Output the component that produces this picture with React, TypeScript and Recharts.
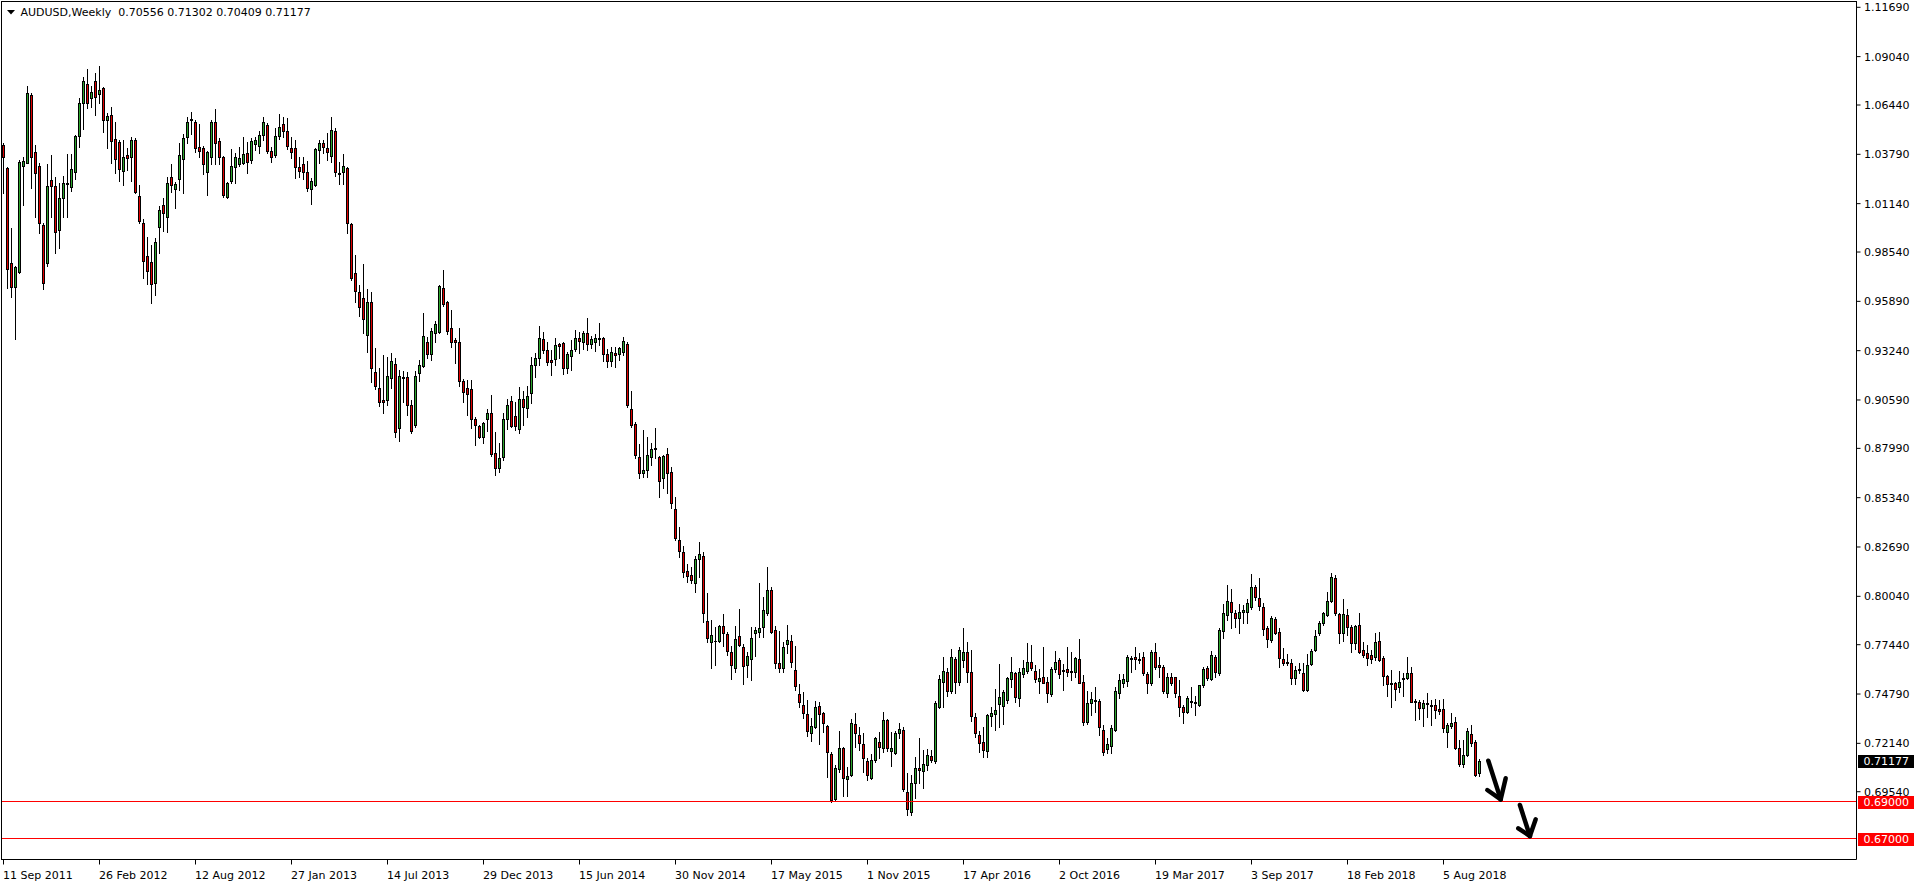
import React from 'react';
import { ComposedChart, Bar, XAxis, YAxis, ReferenceLine } from 'recharts';

// Weekly AUDUSD candles, first bar = week of 11 Sep 2011
const opens = [
  1.0429, 1.0307, 0.9793, 0.9664, 0.9747, 1.0316, 1.0334, 1.0698, 1.0390, 1.0316,
  0.9999, 0.9793, 1.0241, 1.0209, 0.9972, 1.0143, 1.0219, 1.0202, 1.0286, 1.0478,
  1.0653, 1.0757, 1.0680, 1.0771, 1.0704, 1.0734, 1.0563, 1.0590, 1.0459, 1.0447,
  1.0291, 1.0375, 1.0366, 1.0456, 1.0155, 1.0008, 0.9833, 0.9800, 0.9686, 0.9987,
  1.0105, 1.0040, 1.0255, 1.0191, 1.0245, 1.0352, 1.0470, 1.0563, 1.0552, 1.0417,
  1.0411, 1.0282, 1.0367, 1.0552, 1.0451, 1.0363, 1.0151, 1.0237, 1.0311, 1.0327,
  1.0331, 1.0384, 1.0348, 1.0435, 1.0424, 1.0481, 1.0535, 1.0397, 1.0375, 1.0478,
  1.0540, 1.0504, 1.0411, 1.0411, 1.0313, 1.0327, 1.0282, 1.0191, 1.0214, 1.0400,
  1.0438, 1.0411, 1.0370, 1.0506, 1.0280, 1.0282, 1.0307, 1.0003, 0.9743, 0.9641,
  0.9605, 0.9406, 0.9584, 0.9211, 0.9122, 0.9059, 0.9059, 0.9175, 0.9252, 0.8907,
  0.9184, 0.9184, 0.9032, 0.8925, 0.9202, 0.9242, 0.9372, 0.9306, 0.9421, 0.9426,
  0.9659, 0.9584, 0.9444, 0.9381, 0.9369, 0.9163, 0.9122, 0.9116, 0.8955, 0.8919,
  0.8858, 0.8955, 0.8991, 0.8772, 0.8692, 0.8755, 0.8955, 0.9054, 0.8973, 0.8901,
  0.9062, 0.9017, 0.9095, 0.9247, 0.9283, 0.9385, 0.9327, 0.9274, 0.9277, 0.9358,
  0.9363, 0.9229, 0.9295, 0.9331, 0.9390, 0.9372, 0.9417, 0.9360, 0.9372, 0.9385,
  0.9390, 0.9304, 0.9270, 0.9310, 0.9304, 0.9318, 0.9360, 0.9009, 0.8928, 0.8751,
  0.8668, 0.8683, 0.8751, 0.8799, 0.8751, 0.8642, 0.8767, 0.8670, 0.8471, 0.8305,
  0.8240, 0.8140, 0.8119, 0.8074, 0.8203, 0.8221, 0.7871, 0.7760, 0.7766, 0.7766,
  0.7844, 0.7800, 0.7703, 0.7617, 0.7791, 0.7730, 0.7635, 0.7665, 0.7809, 0.7814,
  0.7837, 0.7916, 0.8038, 0.7823, 0.7647, 0.7617, 0.7748, 0.7764, 0.7608, 0.7479,
  0.7420, 0.7372, 0.7268, 0.7304, 0.7415, 0.7375, 0.7307, 0.7157, 0.6913, 0.7074,
  0.7187, 0.7021, 0.7044, 0.7316, 0.7259, 0.7210, 0.7121, 0.7026, 0.7124, 0.7223,
  0.7187, 0.7339, 0.7175, 0.7164, 0.7272, 0.7286, 0.6954, 0.6847, 0.6999, 0.7080,
  0.7067, 0.7097, 0.7146, 0.7121, 0.7407, 0.7545, 0.7596, 0.7497, 0.7665, 0.7542,
  0.7662, 0.7705, 0.7595, 0.7357, 0.7259, 0.7219, 0.7174, 0.7362, 0.7370, 0.7425,
  0.7415, 0.7447, 0.7558, 0.7590, 0.7456, 0.7585, 0.7604, 0.7649, 0.7603, 0.7551,
  0.7572, 0.7542, 0.7477, 0.7612, 0.7662, 0.7608, 0.7613, 0.7603, 0.7596, 0.7665,
  0.7542, 0.7327, 0.7431, 0.7447, 0.7441, 0.7285, 0.7182, 0.7201, 0.7286, 0.7483,
  0.7540, 0.7551, 0.7672, 0.7676, 0.7665, 0.7676, 0.7585, 0.7540, 0.7705, 0.7633,
  0.7622, 0.7486, 0.7568, 0.7568, 0.7468, 0.7407, 0.7384, 0.7443, 0.7438, 0.7420,
  0.7527, 0.7617, 0.7558, 0.7676, 0.7594, 0.7819, 0.7904, 0.7975, 0.7913, 0.7886,
  0.7922, 0.7922, 0.7945, 0.8052, 0.7993, 0.7945, 0.7832, 0.7769, 0.7880, 0.7814,
  0.7665, 0.7644, 0.7647, 0.7563, 0.7608, 0.7590, 0.7501, 0.7640, 0.7715, 0.7809,
  0.7859, 0.7904, 0.7981, 0.8101, 0.7909, 0.7809, 0.7904, 0.7837, 0.7755, 0.7850,
  0.7715, 0.7698, 0.7689, 0.7676, 0.7766, 0.7671, 0.7576, 0.7537, 0.7537, 0.7515,
  0.7558, 0.7563, 0.7590, 0.7441, 0.7438, 0.7402, 0.7429, 0.7420, 0.7420, 0.7397,
  0.7397, 0.7277, 0.7309, 0.7330, 0.7187, 0.7103, 0.7151, 0.7264, 0.7223, 0.70556,
];

const highs = [
  1.0440, 1.0312, 0.9981, 0.9780, 1.0349, 1.0366, 1.0746, 1.0707, 1.0429, 1.0331,
  1.0008, 1.0325, 1.0375, 1.0259, 1.0227, 1.0262, 1.0381, 1.0381, 1.0483, 1.0680,
  1.0796, 1.0836, 1.0746, 1.0814, 1.0854, 1.0739, 1.0599, 1.0635, 1.0554, 1.0456,
  1.0456, 1.0411, 1.0470, 1.0465, 1.0214, 1.0030, 0.9933, 0.9892, 0.9928, 1.0101,
  1.0146, 1.0259, 1.0327, 1.0232, 1.0442, 1.0488, 1.0578, 1.0604, 1.0563, 1.0542,
  1.0424, 1.0399, 1.0563, 1.0621, 1.0465, 1.0370, 1.0232, 1.0406, 1.0384, 1.0417,
  1.0474, 1.0447, 1.0465, 1.0474, 1.0506, 1.0578, 1.0545, 1.0417, 1.0519, 1.0596,
  1.0581, 1.0572, 1.0470, 1.0456, 1.0366, 1.0366, 1.0345, 1.0250, 1.0411, 1.0456,
  1.0456, 1.0495, 1.0581, 1.0519, 1.0336, 1.0381, 1.0313, 1.0008, 0.9838, 0.9677,
  0.9788, 0.9654, 0.9638, 0.9336, 0.9229, 0.9301, 0.9292, 0.9310, 0.9283, 0.9220,
  0.9216, 0.9211, 0.9059, 0.9216, 0.9274, 0.9528, 0.9396, 0.9444, 0.9485, 0.9677,
  0.9757, 0.9593, 0.9542, 0.9390, 0.9444, 0.9170, 0.9166, 0.9166, 0.8969, 0.8925,
  0.8943, 0.9009, 0.9084, 0.8889, 0.8826, 0.8991, 0.9064, 0.9080, 0.9046, 0.9130,
  0.9109, 0.9134, 0.9288, 0.9310, 0.9456, 0.9426, 0.9372, 0.9327, 0.9390, 0.9367,
  0.9372, 0.9318, 0.9381, 0.9435, 0.9426, 0.9431, 0.9498, 0.9403, 0.9413, 0.9471,
  0.9399, 0.9331, 0.9342, 0.9342, 0.9342, 0.9399, 0.9369, 0.9109, 0.8943, 0.8822,
  0.8898, 0.8858, 0.8830, 0.8907, 0.8758, 0.8764, 0.8799, 0.8701, 0.8539, 0.8378,
  0.8274, 0.8178, 0.8163, 0.8221, 0.8298, 0.8244, 0.8020, 0.7877, 0.7837, 0.7850,
  0.7909, 0.7814, 0.7737, 0.7844, 0.7934, 0.7746, 0.7706, 0.7837, 0.7837, 0.8077,
  0.8002, 0.8163, 0.8052, 0.7844, 0.7819, 0.7760, 0.7850, 0.7796, 0.7737, 0.7533,
  0.7492, 0.7447, 0.7348, 0.7443, 0.7438, 0.7384, 0.7313, 0.7169, 0.7097, 0.7282,
  0.7196, 0.7089, 0.7343, 0.7379, 0.7304, 0.7268, 0.7133, 0.7157, 0.7246, 0.7277,
  0.7384, 0.7345, 0.7277, 0.7282, 0.7325, 0.7300, 0.7053, 0.7044, 0.7142, 0.7241,
  0.7178, 0.7181, 0.7178, 0.7443, 0.7581, 0.7676, 0.7617, 0.7719, 0.7676, 0.7730,
  0.7832, 0.7760, 0.7715, 0.7375, 0.7282, 0.7303, 0.7372, 0.7411, 0.7504, 0.7640,
  0.7501, 0.7572, 0.7676, 0.7599, 0.7617, 0.7662, 0.7751, 0.7742, 0.7635, 0.7612,
  0.7730, 0.7569, 0.7626, 0.7710, 0.7671, 0.7640, 0.7730, 0.7706, 0.7676, 0.7773,
  0.7581, 0.7495, 0.7492, 0.7519, 0.7450, 0.7312, 0.7241, 0.7312, 0.7515, 0.7586,
  0.7586, 0.7688, 0.7683, 0.7733, 0.7697, 0.7706, 0.7599, 0.7715, 0.7751, 0.7676,
  0.7635, 0.7590, 0.7590, 0.7572, 0.7554, 0.7420, 0.7468, 0.7515, 0.7468, 0.7530,
  0.7626, 0.7630, 0.7712, 0.7689, 0.7832, 0.7965, 0.8065, 0.8041, 0.7930, 0.7963,
  0.7957, 0.7988, 0.8124, 0.8065, 0.8101, 0.7970, 0.7845, 0.7898, 0.7891, 0.7832,
  0.7724, 0.7694, 0.7665, 0.7629, 0.7644, 0.7644, 0.7694, 0.7719, 0.7823, 0.7873,
  0.7922, 0.8029, 0.8131, 0.8119, 0.7916, 0.7988, 0.7934, 0.7850, 0.7850, 0.7916,
  0.7760, 0.7742, 0.7715, 0.7809, 0.7814, 0.7683, 0.7581, 0.7608, 0.7545, 0.7605,
  0.7590, 0.7676, 0.7626, 0.7450, 0.7447, 0.7447, 0.7482, 0.7447, 0.7450, 0.7447,
  0.7450, 0.7322, 0.7375, 0.7354, 0.7232, 0.7232, 0.7295, 0.7313, 0.7232, 0.71302,
];

const lows = [
  1.0169, 0.9659, 0.9614, 0.9388, 0.9740, 1.0107, 1.0330, 1.0196, 1.0044, 0.9958,
  0.9657, 0.9781, 1.0040, 0.9850, 0.9877, 1.0040, 1.0044, 1.0180, 1.0245, 1.0420,
  1.0515, 1.0626, 1.0631, 1.0590, 1.0653, 1.0501, 1.0411, 1.0331, 1.0281, 1.0237,
  1.0214, 1.0295, 1.0237, 1.0173, 1.0008, 0.9713, 0.9682, 0.9578, 0.9623, 0.9847,
  0.9969, 0.9963, 1.0178, 1.0092, 1.0187, 1.0169, 1.0438, 1.0488, 1.0393, 1.0366,
  1.0271, 1.0160, 1.0327, 1.0327, 1.0327, 1.0151, 1.0142, 1.0223, 1.0227, 1.0316,
  1.0327, 1.0277, 1.0334, 1.0402, 1.0388, 1.0456, 1.0388, 1.0340, 1.0366, 1.0460,
  1.0474, 1.0406, 1.0357, 1.0250, 1.0259, 1.0246, 1.0184, 1.0110, 1.0209, 1.0331,
  1.0384, 1.0348, 1.0339, 1.0264, 1.0219, 1.0219, 0.9954, 0.9704, 0.9587, 0.9512,
  0.9421, 0.9319, 0.9157, 0.9116, 0.9027, 0.8991, 0.9032, 0.9122, 0.8862, 0.8840,
  0.9050, 0.8978, 0.8883, 0.8916, 0.9162, 0.9238, 0.9283, 0.9274, 0.9372, 0.9421,
  0.9564, 0.9413, 0.9342, 0.9260, 0.9134, 0.9050, 0.8978, 0.8907, 0.8817, 0.8853,
  0.8826, 0.8894, 0.8758, 0.8656, 0.8674, 0.8737, 0.8901, 0.8912, 0.8898, 0.8884,
  0.8924, 0.8969, 0.9041, 0.9184, 0.9247, 0.9310, 0.9247, 0.9193, 0.9247, 0.9283,
  0.9198, 0.9206, 0.9220, 0.9324, 0.9313, 0.9331, 0.9327, 0.9336, 0.9324, 0.9354,
  0.9270, 0.9234, 0.9242, 0.9234, 0.9274, 0.9301, 0.9023, 0.8916, 0.8745, 0.8638,
  0.8647, 0.8647, 0.8710, 0.8746, 0.8536, 0.8584, 0.8561, 0.8477, 0.8307, 0.8214,
  0.8106, 0.8083, 0.8077, 0.8029, 0.8110, 0.7868, 0.7760, 0.7621, 0.7635, 0.7760,
  0.7737, 0.7689, 0.7558, 0.7599, 0.7737, 0.7531, 0.7572, 0.7554, 0.7683, 0.7784,
  0.7784, 0.7904, 0.7805, 0.7617, 0.7599, 0.7599, 0.7701, 0.7622, 0.7501, 0.7411,
  0.7348, 0.7254, 0.7229, 0.7295, 0.7210, 0.7277, 0.7035, 0.6901, 0.6906, 0.7062,
  0.6931, 0.6931, 0.7039, 0.7196, 0.7178, 0.7062, 0.7017, 0.7021, 0.7115, 0.7133,
  0.7169, 0.7175, 0.7092, 0.7157, 0.7241, 0.6960, 0.6829, 0.6829, 0.6919, 0.6999,
  0.6972, 0.7071, 0.7116, 0.7107, 0.7402, 0.7411, 0.7468, 0.7483, 0.7486, 0.7527,
  0.7626, 0.7545, 0.7336, 0.7250, 0.7169, 0.7142, 0.7142, 0.7307, 0.7286, 0.7304,
  0.7318, 0.7433, 0.7515, 0.7438, 0.7415, 0.7569, 0.7594, 0.7608, 0.7545, 0.7486,
  0.7536, 0.7438, 0.7468, 0.7599, 0.7563, 0.7500, 0.7576, 0.7554, 0.7569, 0.7536,
  0.7312, 0.7318, 0.7366, 0.7384, 0.7259, 0.7151, 0.7160, 0.7160, 0.7282, 0.7456,
  0.7518, 0.7522, 0.7599, 0.7613, 0.7647, 0.7581, 0.7486, 0.7527, 0.7611, 0.7568,
  0.7486, 0.7465, 0.7527, 0.7465, 0.7361, 0.7325, 0.7379, 0.7411, 0.7366, 0.7415,
  0.7518, 0.7554, 0.7554, 0.7572, 0.7581, 0.7778, 0.7877, 0.7832, 0.7837, 0.7805,
  0.7862, 0.7862, 0.7934, 0.7984, 0.7930, 0.7796, 0.7730, 0.7760, 0.7801, 0.7622,
  0.7635, 0.7635, 0.7533, 0.7533, 0.7594, 0.7497, 0.7497, 0.7635, 0.7712, 0.7796,
  0.7850, 0.7898, 0.7975, 0.7903, 0.7755, 0.7766, 0.7796, 0.7707, 0.7719, 0.7701,
  0.7680, 0.7635, 0.7644, 0.7662, 0.7658, 0.7527, 0.7468, 0.7408, 0.7447, 0.7492,
  0.7468, 0.7558, 0.7435, 0.7339, 0.7343, 0.7307, 0.7357, 0.7312, 0.7348, 0.7372,
  0.7277, 0.7196, 0.7295, 0.7182, 0.7092, 0.7085, 0.7146, 0.7200, 0.7038, 0.70409,
];

const closes = [
  1.0363, 0.9761, 0.9668, 0.9771, 1.0336, 1.0343, 1.0707, 1.0367, 1.0277, 1.0008,
  0.9689, 1.0209, 1.0209, 0.9963, 1.0143, 1.0223, 1.0225, 1.0300, 1.0478, 1.0653,
  1.0771, 1.0653, 1.0712, 1.0685, 1.0727, 1.0563, 1.0585, 1.0452, 1.0352, 1.0302,
  1.0363, 1.0361, 1.0456, 1.0177, 1.0021, 0.9808, 0.9754, 0.9682, 0.9910, 1.0080,
  1.0062, 1.0227, 1.0214, 1.0220, 1.0375, 1.0465, 1.0552, 1.0567, 1.0415, 1.0399,
  1.0325, 1.0390, 1.0552, 1.0442, 1.0367, 1.0163, 1.0223, 1.0316, 1.0363, 1.0358,
  1.0381, 1.0340, 1.0451, 1.0456, 1.0481, 1.0552, 1.0399, 1.0363, 1.0478, 1.0524,
  1.0504, 1.0424, 1.0393, 1.0313, 1.0291, 1.0282, 1.0196, 1.0236, 1.0406, 1.0438,
  1.0417, 1.0393, 1.0510, 1.0282, 1.0271, 1.0316, 1.0008, 0.9713, 0.9646, 0.9561,
  0.9492, 0.9584, 0.9229, 0.9134, 0.9050, 0.9050, 0.9188, 0.9270, 0.8889, 0.9188,
  0.9175, 0.9032, 0.8894, 0.9188, 0.9247, 0.9403, 0.9306, 0.9430, 0.9467, 0.9671,
  0.9575, 0.9431, 0.9372, 0.9369, 0.9163, 0.9104, 0.9091, 0.8955, 0.8925, 0.8862,
  0.8934, 0.8991, 0.8767, 0.8692, 0.8746, 0.8955, 0.9032, 0.8919, 0.8919, 0.9062,
  0.9023, 0.9080, 0.9247, 0.9283, 0.9390, 0.9327, 0.9261, 0.9265, 0.9354, 0.9351,
  0.9229, 0.9304, 0.9327, 0.9394, 0.9378, 0.9417, 0.9358, 0.9385, 0.9390, 0.9394,
  0.9304, 0.9270, 0.9318, 0.9301, 0.9336, 0.9376, 0.9032, 0.8925, 0.8763, 0.8668,
  0.8683, 0.8763, 0.8796, 0.8794, 0.8626, 0.8758, 0.8665, 0.8507, 0.8316, 0.8249,
  0.8137, 0.8115, 0.8092, 0.8205, 0.8231, 0.7916, 0.7782, 0.7796, 0.7764, 0.7844,
  0.7809, 0.7712, 0.7635, 0.7773, 0.7743, 0.7630, 0.7683, 0.7778, 0.7823, 0.7832,
  0.7930, 0.8038, 0.7814, 0.7644, 0.7621, 0.7734, 0.7769, 0.7653, 0.7522, 0.7438,
  0.7379, 0.7282, 0.7307, 0.7411, 0.7372, 0.7325, 0.7169, 0.6910, 0.7080, 0.7187,
  0.7026, 0.7039, 0.7321, 0.7268, 0.7214, 0.7133, 0.7044, 0.7124, 0.7241, 0.7193,
  0.7339, 0.7187, 0.7187, 0.7268, 0.7289, 0.6967, 0.6859, 0.7003, 0.7080, 0.7071,
  0.7103, 0.7151, 0.7125, 0.7429, 0.7558, 0.7603, 0.7497, 0.7676, 0.7545, 0.7714,
  0.7706, 0.7599, 0.7361, 0.7268, 0.7218, 0.7178, 0.7366, 0.7375, 0.7393, 0.7461,
  0.7492, 0.7563, 0.7595, 0.7461, 0.7595, 0.7617, 0.7649, 0.7621, 0.7558, 0.7567,
  0.7540, 0.7486, 0.7612, 0.7653, 0.7585, 0.7603, 0.7595, 0.7596, 0.7671, 0.7540,
  0.7330, 0.7429, 0.7450, 0.7440, 0.7300, 0.7169, 0.7210, 0.7295, 0.7495, 0.7554,
  0.7560, 0.7676, 0.7667, 0.7665, 0.7662, 0.7590, 0.7536, 0.7705, 0.7622, 0.7622,
  0.7497, 0.7568, 0.7540, 0.7486, 0.7411, 0.7384, 0.7456, 0.7438, 0.7433, 0.7527,
  0.7612, 0.7563, 0.7689, 0.7599, 0.7823, 0.7912, 0.7981, 0.7921, 0.7886, 0.7922,
  0.7931, 0.7966, 0.8052, 0.7998, 0.7952, 0.7827, 0.7773, 0.7886, 0.7809, 0.7671,
  0.7647, 0.7653, 0.7563, 0.7608, 0.7612, 0.7501, 0.7635, 0.7712, 0.7791, 0.7859,
  0.7913, 0.7981, 0.8106, 0.7916, 0.7809, 0.7909, 0.7837, 0.7755, 0.7845, 0.7706,
  0.7689, 0.7671, 0.7665, 0.7760, 0.7662, 0.7576, 0.7533, 0.7533, 0.7504, 0.7545,
  0.7563, 0.7594, 0.7438, 0.7434, 0.7402, 0.7432, 0.7424, 0.7416, 0.7393, 0.7389,
  0.7295, 0.7313, 0.7321, 0.7187, 0.7103, 0.7151, 0.7282, 0.7214, 0.7044, 0.71177,
];

const xTickIndex = [0, 24, 48, 72, 96, 120, 144, 168, 192, 216, 240, 264, 288, 312, 336, 360];
const xTickLabels = [
  '11 Sep 2011', '26 Feb 2012', '12 Aug 2012', '27 Jan 2013', '14 Jul 2013', '29 Dec 2013',
  '15 Jun 2014', '30 Nov 2014', '17 May 2015', '1 Nov 2015', '17 Apr 2016', '2 Oct 2016',
  '19 Mar 2017', '3 Sep 2017', '18 Feb 2018', '5 Aug 2018',
];
const yTicks = [
  1.1169, 1.0904, 1.0644, 1.0379, 1.0114, 0.9854, 0.9589, 0.9324, 0.9059,
  0.8799, 0.8534, 0.8269, 0.8004, 0.7744, 0.7479, 0.7214, 0.6954,
];
const levelLines = [0.69, 0.67];
const symbolName = 'AUDUSD,Weekly';

// hand-drawn arrows, in (bar index, price) coordinates
const arrowSegments = [
  [[371.2, 0.71207], [374.3, 0.69132]],
  [[370.95, 0.69632], [374.3, 0.69132]],
  [[374.3, 0.69132], [375.55, 0.70261]],
  [[379.1, 0.68826], [381.6, 0.6716]],
  [[378.7, 0.67574], [381.6, 0.6716]],
  [[381.6, 0.6716], [383.05, 0.68058]],
];

const GREEN = '#2CA52C';
const RED = '#E00000';
const FONT = 'DejaVu Sans';

const data = opens.map((o, i) => {
  const c = closes[i];
  return {
    i,
    o,
    c,
    h: Math.max(highs[i], o, c),
    l: Math.min(lows[i], o, c),
  };
});

const lastIdx = data.length - 1;
const lastPrice = closes[lastIdx];

const Candle = (props: any) => {
  const p = props.payload || props;
  let { x, y, width, height } = props;
  if (p == null || p.o == null || x == null || y == null) return null;
  if (height < 0) {
    y = y + height;
    height = -height;
  }
  const { o, h, l, c } = p;
  const k = h - l > 0 ? height / (h - l) : 0;
  const py = (v: number) => y + (h - v) * k;
  const col = Math.floor(x + width / 2);
  const top = Math.round(py(h));
  const bot = Math.round(py(l));
  const bt = Math.round(py(Math.max(o, c)));
  const bb = Math.round(py(Math.min(o, c)));
  const up = c >= o;
  return (
    <g shapeRendering="crispEdges">
      <rect x={col} y={top} width={1} height={Math.max(1, bot - top + 1)} fill="#000" />
      <rect x={col - 1} y={bt} width={3} height={Math.max(1, bb - bt + 1)} fill="#000" />
      {bb - bt >= 2 && (
        <rect x={col} y={bt + 1} width={1} height={bb - bt - 1} fill={up ? GREEN : RED} />
      )}
    </g>
  );
};

const XTick = (props: any) => {
  const { x, y, payload } = props;
  const idx = xTickIndex.indexOf(payload.value);
  const label = idx >= 0 ? xTickLabels[idx] : '';
  return (
    <text x={x - 0.5} y={y + 12} fontFamily={FONT} fontSize={11} fill="#000" textAnchor="start">
      {label}
    </text>
  );
};

const YTick = (props: any) => {
  const { x, y, payload } = props;
  return (
    <text x={x + 1.5} y={y + 4} fontFamily={FONT} fontSize={11} fill="#000" textAnchor="start">
      {Number(payload.value).toFixed(5)}
    </text>
  );
};

const makeTag = (text: string, bg: string) => (props: any) => {
  const vb = props.viewBox || {};
  const xx = Math.floor((vb.x || 0) + (vb.width || 0));
  const yy = Math.round(vb.y || 0);
  return (
    <g shapeRendering="crispEdges">
      <rect x={xx + 2} y={yy - 6} width={56} height={13} fill={bg} />
      <text x={xx + 7.5} y={yy + 4} fontFamily={FONT} fontSize={11} fill="#fff" textAnchor="start">
        {text}
      </text>
    </g>
  );
};

export default function App() {
  const header = `${symbolName}  ${opens[lastIdx].toFixed(5)} ${highs[lastIdx].toFixed(5)} ${lows[lastIdx].toFixed(5)} ${closes[lastIdx].toFixed(5)}`;
  return (
    <div style={{ position: 'absolute', left: 0, top: 0, width: 1916, height: 884, background: '#fff', overflow: 'hidden' }}>
      <ComposedChart
        width={1916}
        height={884}
        data={data}
        margin={{ top: 1.5, right: 0, bottom: 0, left: 1.5 }}
      >
        <XAxis
          type="number"
          dataKey="i"
          domain={[-0.5, 463.25]}
          allowDataOverflow
          ticks={xTickIndex}
          interval={0}
          height={24.5}
          tickSize={5}
          tickMargin={2}
          axisLine={{ stroke: '#000', strokeWidth: 1 }}
          tickLine={{ stroke: '#000', strokeWidth: 1 }}
          tick={<XTick />}
        />
        <YAxis
          type="number"
          orientation="right"
          domain={[0.65898, 1.12002]}
          allowDataOverflow
          ticks={yTicks}
          interval={0}
          width={59.5}
          tickSize={4}
          tickMargin={2}
          axisLine={{ stroke: '#000', strokeWidth: 1 }}
          tickLine={{ stroke: '#000', strokeWidth: 1 }}
          tick={<YTick />}
        />
        <Bar
          dataKey={(d: any) => [d.l, d.h]}
          barSize={3}
          shape={<Candle />}
          isAnimationActive={false}
        />
        {levelLines.map((v) => (
          <ReferenceLine
            key={v}
            y={v}
            stroke="#ff0000"
            strokeWidth={1}
            shapeRendering="crispEdges"
            label={makeTag(v.toFixed(5), '#ff0000')}
          />
        ))}
        <ReferenceLine
          y={lastPrice}
          stroke="none"
          strokeOpacity={0}
          label={makeTag(lastPrice.toFixed(5), '#000000')}
        />
        {arrowSegments.map((seg, k) => (
          <ReferenceLine
            key={'a' + k}
            segment={[{ x: seg[0][0], y: seg[0][1] }, { x: seg[1][0], y: seg[1][1] }]}
            stroke="#000"
            strokeWidth={4.5}
            strokeLinecap="round"
            ifOverflow="visible"
          />
        ))}
      </ComposedChart>
      {/* left & top frame lines */}
      <div style={{ position: 'absolute', left: 1, top: 1, width: 1, height: 859, background: '#000' }} />
      <div style={{ position: 'absolute', left: 1, top: 1, width: 1856, height: 1, background: '#000' }} />
      <svg style={{ position: 'absolute', left: 0, top: 0 }} width={420} height={24}>
        <polygon points="7,10 15,10 11,14.5" fill="#000" />
        <text x={20.5} y={15.5} fontFamily={FONT} fontSize={11} fill="#000" style={{ whiteSpace: 'pre' }}>
          {header}
        </text>
      </svg>
    </div>
  );
}
